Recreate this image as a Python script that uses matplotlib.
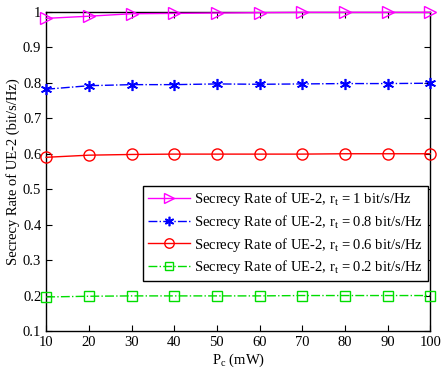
import numpy as np
import matplotlib
matplotlib.use("Agg")
import matplotlib.pyplot as plt

plt.rcParams["font.family"] = "Liberation Serif"
plt.rcParams["mathtext.fontset"] = "custom"
plt.rcParams["mathtext.rm"] = "Liberation Serif"
plt.rcParams["mathtext.it"] = "Liberation Serif:italic"

pc = [10, 20, 30, 40, 50, 60, 70, 80, 90, 100]
rate_r1 = [0.982, 0.988, 0.995, 0.996, 0.997, 0.998, 0.999, 0.999, 0.999, 0.999]
rate_r08 = [0.782, 0.792, 0.795, 0.795, 0.797, 0.796, 0.797, 0.798, 0.798, 0.799]
rate_r06 = [0.590, 0.596, 0.598, 0.599, 0.599, 0.599, 0.599, 0.600, 0.600, 0.600]
rate_r02 = [0.196, 0.198, 0.199, 0.199, 0.199, 0.199, 0.200, 0.200, 0.200, 0.200]
labels = [
    r"Secrecy Rate of UE-2, r$_{\mathrm{t}}$ = 1 bit/s/Hz",
    r"Secrecy Rate of UE-2, r$_{\mathrm{t}}$ = 0.8 bit/s/Hz",
    r"Secrecy Rate of UE-2, r$_{\mathrm{t}}$ = 0.6 bit/s/Hz",
    r"Secrecy Rate of UE-2, r$_{\mathrm{t}}$ = 0.2 bit/s/Hz",
]

fig = plt.figure(figsize=(4.44, 3.74), dpi=100)
ax = fig.add_axes([0.104, 0.115, 0.865, 0.853])

ax.plot(pc, rate_r1, color="#ff00ff", marker=">", markersize=9,
        markerfacecolor="none", linewidth=1.0, label=labels[0], clip_on=False)
ax.plot(pc, rate_r08, color="#0000ff", marker=(6, 2, 0), markersize=8,
        markeredgewidth=1.2, linestyle="-.", linewidth=1.0, label=labels[1], clip_on=False)
ax.plot(pc, rate_r06, color="#ff0000", marker="o", markersize=8,
        markerfacecolor="none", linewidth=1.0, label=labels[2], clip_on=False)
ax.plot(pc, rate_r02, color="#00dd00", marker="s", markersize=7,
        markerfacecolor="none", linestyle="-.", linewidth=1.0, label=labels[3], clip_on=False)

ax.set_xlim(10, 100)
ax.set_ylim(0.1, 1.0)
ax.set_xticks(pc)
ax.set_yticks(np.arange(0.1, 1.01, 0.1))
ax.set_yticklabels(["0.1", "0.2", "0.3", "0.4", "0.5", "0.6", "0.7", "0.8", "0.9", "1"])
ax.tick_params(direction="in", top=True, right=True, labelsize=10.5, length=4)
for s in ax.spines.values():
    s.set_linewidth(1.0)
    s.set_zorder(1)

ax.set_xlabel(r"P$_{\mathrm{c}}$ (mW)", fontsize=10.5, labelpad=2)
ax.set_ylabel("Secrecy Rate of UE-2 (bit/s/Hz)", fontsize=10.5, labelpad=2)

leg = ax.legend(loc="lower right", bbox_to_anchor=(0.993, 0.158), fontsize=10.5,
                fancybox=False, edgecolor="black", framealpha=1,
                handlelength=2.9, handletextpad=0.3, borderpad=0.3,
                labelspacing=0.32, borderaxespad=0, markerscale=0.85)
leg.get_frame().set_linewidth(1.0)

fig.savefig("out.png", dpi=100)
